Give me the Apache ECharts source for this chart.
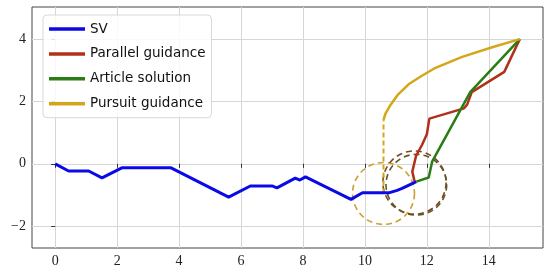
<!DOCTYPE html>
<html>
<head>
<meta charset="utf-8">
<script src="https://cdn.jsdelivr.net/npm/echarts@6/dist/echarts.min.js"></script>
<style>
  html, body { margin: 0; padding: 0; background: #fff; }
  #main { width: 550px; height: 273px; }
</style>
</head>
<body>
<div id="main"></div>
<script>
// trajectories, [x, y]
var sv = [[0, 0], [0.43, -0.23], [1.08, -0.23], [1.51, -0.45], [2.15, -0.13], [3.74, -0.13],
  [5.6, -1.07], [6.3, -0.71], [7.0, -0.71], [7.16, -0.77], [7.75, -0.46], [7.9, -0.52],
  [8.08, -0.42], [9.55, -1.14], [9.92, -0.93], [10.77, -0.93], [10.82, -0.97], [11.04, -0.85],
  [11.2, -0.79], [11.66, -0.57]];
var parallel = [[11.6, -0.55], [11.53, -0.25], [11.65, 0.25], [11.85, 0.62], [12.0, 0.95],
  [12.08, 1.45], [13.2, 1.78], [13.3, 1.9], [13.45, 2.3], [14.5, 2.95], [15, 4]];
var article = [[11.66, -0.57], [12.06, -0.44], [12.17, 0.07], [13.4, 2.3], [15, 4]];
var pursuitJump = [[10.6, -0.95], [10.6, 1.4]];
var pursuit = [[10.6, 1.4], [10.66, 1.6], [10.82, 1.88], [11.05, 2.2], [11.41, 2.55], [11.8, 2.8],
  [12.28, 3.08], [13.14, 3.43], [14.11, 3.74], [15, 4]];
// circles: [cx, cy, r]
var pursuitCircle = [[10.6, -0.95, 1.0]];
var parallelCircle = [[11.6, -0.6, 1.02]];
var articleCircle = [[11.66, -0.67, 0.98]];

var xTicks = [0, 2, 4, 6, 8, 10, 12, 14];
var yTicks = [-2, 0, 2, 4];

var names = ['SV', 'Parallel guidance', 'Article solution', 'Pursuit guidance'];
var colors = ['#0a0ae6', '#b0301a', '#2a7d14', '#d4a71a'];

function circleSeries(data, color) {
  return {
    type: 'custom',
    name: 'circle',
    data: data,
    z: 1,
    renderItem: function (params, api) {
      var c = api.coord([api.value(0), api.value(1)]);
      var s = api.size([api.value(2), api.value(2)]);
      return {
        type: 'circle',
        shape: { cx: c[0], cy: c[1], r: s[0] },
        style: { fill: 'none', stroke: color, lineWidth: 1.6, lineDash: [6, 4] }
      };
    }
  };
}

function lineSeries(name, data, color, width, dash) {
  return {
    type: 'line',
    name: name,
    data: data,
    symbol: 'none',
    z: 3,
    lineStyle: { color: color, width: width, type: dash ? [5, 3] : 'solid' },
    itemStyle: { color: color }
  };
}

var fmt = function (v) { return v < 0 ? '\u2212' + Math.abs(v) : String(v); };

var myChart = echarts.init(document.getElementById('main'));
myChart.setOption({
  animation: false,
  grid: { left: 32, right: 7, top: 7, bottom: 25, show: true, borderColor: '#444', borderWidth: 1 },
  xAxis: {
    type: 'value', min: -0.75, max: 15.75,
    axisLine: { show: false },
    axisTick: { show: true, customValues: xTicks, length: 4, lineStyle: { color: '#333' } },
    axisLabel: { customValues: xTicks, formatter: fmt, fontFamily: 'Liberation Serif', fontSize: 14, color: '#222', margin: 6 },
    splitLine: { show: true, lineStyle: { color: '#d6d6d6', width: 1 } }
  },
  yAxis: {
    type: 'value', min: -2.7, max: 5.03,
    axisLine: { show: false },
    axisTick: { show: true, customValues: yTicks, length: 4, lineStyle: { color: '#333' } },
    axisLabel: { customValues: yTicks, formatter: fmt, fontFamily: 'Liberation Serif', fontSize: 14, color: '#222', margin: 6 },
    splitLine: { show: true, lineStyle: { color: '#d6d6d6', width: 1 } }
  },
  legend: {
    data: names.map(function (n, i) { return { name: n, itemStyle: { color: colors[i] } }; }),
    orient: 'vertical',
    left: 43, top: 15,
    padding: [6, 6, 6, 6],
    icon: 'rect',
    itemWidth: 36, itemHeight: 3.5, itemGap: 8.9, itemTextGap: 14,
    backgroundColor: 'rgba(255,255,255,0.85)',
    borderColor: '#d8d8d8', borderWidth: 1, borderRadius: 4,
    textStyle: { fontFamily: 'DejaVu Sans', fontSize: 13.5, lineHeight: 16, color: '#111' }
  },
  series: [
    circleSeries(pursuitCircle, '#c9a032'),
    circleSeries(parallelCircle, '#83442a'),
    circleSeries(articleCircle, '#5a5a22'),
    lineSeries('Pursuit guidance', pursuitJump, colors[3], 2, true),
    lineSeries('SV', sv, colors[0], 3),
    lineSeries('Parallel guidance', parallel, colors[1], 2.5),
    lineSeries('Article solution', article, colors[2], 2.5),
    lineSeries('Pursuit guidance', pursuit, colors[3], 2.5)
  ]
});
</script>
</body>
</html>
